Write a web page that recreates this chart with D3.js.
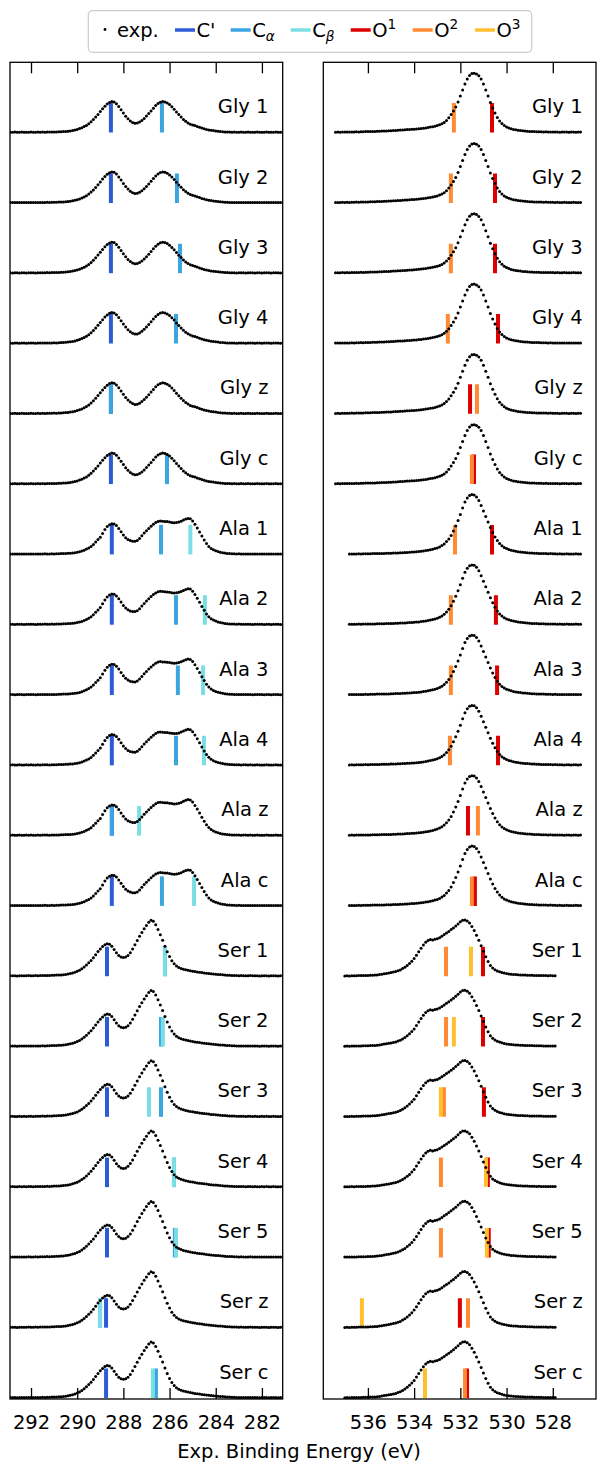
<!DOCTYPE html>
<html><head><meta charset="utf-8">
<script src="https://cdn.jsdelivr.net/npm/d3@7"></script>
<style>body{margin:0;background:#fff} svg{display:block} text{font-family:"DejaVu Sans",sans-serif;fill:#000}</style>
</head><body><svg id="c" width="597" height="1469"></svg>
<script>
// ---------------- DATA ----------------
const rows = ["Gly 1","Gly 2","Gly 3","Gly 4","Gly z","Gly c",
              "Ala 1","Ala 2","Ala 3","Ala 4","Ala z","Ala c",
              "Ser 1","Ser 2","Ser 3","Ser 4","Ser 5","Ser z","Ser c"];
const rowMolecule = ["Gly","Gly","Gly","Gly","Gly","Gly","Ala","Ala","Ala","Ala","Ala","Ala","Ser","Ser","Ser","Ser","Ser","Ser","Ser"];

// computed C 1s binding energies (eV)
const cPrime = [288.54,288.54,288.54,288.54,288.54,288.54, 288.50,288.50,288.50,288.50,288.50,288.50, 288.71,288.71,288.71,288.71,288.71,288.75,288.75];
const cAlpha = [286.33,285.68,285.55,285.72,288.54,286.11, 286.37,285.72,285.64,285.72,288.50,286.33, 286.20,286.37,286.37,285.81,285.77,289.01,286.59];
const cBeta  = [null,null,null,null,null,null, 285.10,284.47,284.55,284.51,287.32,284.94, 286.20,286.29,286.89,285.81,285.72,289.01,286.72];
// computed O 1s binding energies (eV)
const o1 = [530.63,530.50,530.50,530.37,531.58,531.41, 530.63,530.46,530.41,530.37,531.67,531.37, 531.02,531.02,530.98,530.81,530.77,532.02,531.71];
const o2 = [532.28,532.41,532.41,532.54,531.28,531.50, 532.23,532.41,532.41,532.45,531.24,531.50, 532.62,532.62,532.71,532.84,532.84,531.67,531.80];
const o3 = [null,null,null,null,null,null, null,null,null,null,null,null, 531.54,532.28,532.84,530.89,530.85,536.26,533.53];

// experimental spectra (a.u.), sampled every 0.1 eV from the start energy downwards
const expStep = 0.1;
const expC_start = {Gly:292.9, Ala:292.9, Ser:292.9};
const expC_Gly = [0.4,0.3,0.5,0.4,0.3,0.5,0.4,0.3,0.4,0.5,0.4,0.3,0.5,0.4,0.5,0.4,0.6,0.5,0.6,0.7,
 0.6,0.8,0.9,1.0,1.2,1.4,1.7,2.1,2.6,3.2,4.0,4.9,6.0,7.2,8.8,10.8,13.0,15.5,18.2,21.0,
 23.8,26.4,28.6,30.2,31.0,30.6,28.8,26.0,22.8,19.5,16.4,13.8,11.7,10.2,9.4,9.6,10.6,12.2,14.2,16.5,
 19.0,21.7,24.4,27.0,29.0,30.4,31.0,30.6,29.6,28.0,25.8,23.4,20.6,18.0,15.6,13.2,11.3,9.7,8.4,7.6,
 7.0,6.2,5.3,4.5,3.8,3.2,2.7,2.3,2.0,1.7,1.4,1.1,0.9,0.7,0.6,
 0.5,0.4,0.5,0.3,0.4,0.5,0.4,0.3,0.5,0.4,0.4,0.3,0.5,0.4,0.3,0.4,0.5,0.4,0.3,0.4,0.5,0.4,0.3,0.4];
const expC_Ala = [0.4,0.5,0.3,0.4,0.5,0.4,0.3,0.5,0.4,0.5,0.4,0.3,0.5,0.4,0.5,0.6,0.5,0.4,0.6,0.5,0.6,0.7,0.8,
 0.9,1.0,1.1,1.2,1.4,1.7,2.1,2.6,3.3,4.2,5.3,6.4,7.9,10.0,12.4,14.8,17.2,
 21.0,24.8,27.8,29.7,30.7,30.4,28.8,26.0,22.6,19.3,16.7,14.9,13.8,13.2,13.1,14.0,16.0,18.6,21.3,23.6,
 25.9,28.1,30.1,31.8,33.0,33.4,33.1,32.9,32.8,32.4,32.0,31.7,31.9,32.4,33.2,34.3,35.3,36.0,35.6,33.5,
 30.2,26.5,22.5,18.3,14.4,10.8,8.0,6.0,4.6,3.6,2.8,2.2,1.7,1.3,1.0,0.8,0.7,
 0.6,0.5,0.6,0.4,0.5,0.5,0.4,0.5,0.3,0.4,0.5,0.4,0.4,0.3,0.5,0.4,0.3,0.4,0.5,0.4,0.3,0.4];
const expC_Ser = [0.4,0.5,0.4,0.3,0.5,0.4,0.5,0.4,0.6,0.5,0.4,0.6,0.5,0.6,0.7,0.6,0.8,0.7,0.9,1.0,
 1.1,1.2,1.3,1.5,1.8,2.2,2.7,3.3,4.0,4.9,6.0,7.5,9.2,11.2,13.4,15.8,18.5,21.5,24.6,27.3,
 29.6,31.5,32.5,32.0,30.0,26.8,23.4,20.8,19.2,18.7,19.2,20.8,23.5,27.2,31.5,35.8,40.0,43.8,47.5,50.8,
 54.0,56.0,55.0,51.5,46.8,41.5,36.0,30.0,24.5,19.6,15.5,12.4,10.2,8.8,7.8,7.0,6.4,5.9,5.4,5.0,
 4.6,4.2,3.9,3.6,3.3,3.0,2.7,2.4,2.2,2.0,1.8,1.6,1.4,1.2,1.0,0.9,0.8,0.7,
 0.6,0.5,0.6,0.5,0.4,0.5,0.6,0.4,0.5,0.4,0.3,0.5,0.4,0.5,0.3,0.4,0.5,0.4,0.3,0.4,0.5];
const expO_start = {Gly:537.4, Ala:536.8, Ser:537.0};
const expO_Gly = [0.4,0.5,0.4,0.6,0.5,0.6,0.5,0.7,0.6,0.8,0.7,0.9,0.8,1.0,1.0,1.1,1.2,1.2,1.3,1.4,
 1.5,1.6,1.7,1.8,1.9,2.1,2.2,2.4,2.5,2.6,2.8,3.0,3.1,3.3,3.4,3.6,3.9,4.1,4.4,4.7,
 5.1,5.5,5.9,6.4,7.0,7.8,8.8,10.2,12.2,14.8,18.0,21.5,25.5,30.5,36.5,42.5,48.5,53.5,57.0,59.0,
 59.4,58.6,56.8,53.5,48.5,42.5,36.5,30.0,24.5,19.5,15.0,11.5,9.0,7.0,5.6,4.6,3.8,3.2,2.8,2.4,
 2.1,1.8,1.6,1.4,1.2,1.1,1.0,0.9,0.9,0.8,0.7,0.8,0.6,0.7,0.6,
 0.5,0.6,0.4,0.5,0.6,0.5,0.4,0.5,0.6,0.4,0.5,0.5];
const expO_Ala = [0.4,0.5,0.4,0.5,0.6,0.5,0.6,0.7,0.6,0.7,0.8,0.8,0.9,0.9,1.0,1.0,1.1,1.1,1.2,1.3,
 1.4,1.5,1.6,1.7,1.8,2.0,2.1,2.3,2.4,2.6,2.8,3.1,3.4,3.8,4.2,4.7,5.2,5.8,6.5,7.5,
 8.8,10.5,12.8,15.5,19.0,23.5,28.5,34.0,40.0,46.5,52.5,56.5,59.0,59.8,59.5,57.5,54.0,49.0,43.5,38.0,
 32.5,27.0,22.0,17.5,13.8,10.8,8.6,7.0,5.8,4.9,4.2,3.6,3.1,2.7,2.4,2.1,1.9,1.7,1.5,1.3,
 1.2,1.1,1.0,0.9,0.9,0.8,0.7,0.8,0.6,
 0.7,0.5,0.6,0.5,0.4,0.6,0.5,0.4,0.5,0.6,0.4,0.5];
const expO_Ser = [0.3,0.4,0.3,0.5,0.4,0.5,0.6,0.6,0.7,0.7,0.8,0.9,1.0,1.1,1.3,1.6,2.0,2.4,2.8,3.2,
 3.6,4.1,4.6,5.4,6.3,7.6,9.0,10.8,12.7,15.0,17.6,21.0,24.5,28.0,31.3,34.0,35.8,36.8,36.2,36.9,
 37.4,38.5,40.0,41.6,43.2,44.8,46.6,48.3,50.2,52.3,54.5,56.0,56.2,55.2,53.3,49.8,45.8,41.0,36.0,30.5,
 25.0,19.5,14.8,10.8,8.2,6.5,5.3,4.4,3.7,3.1,2.6,2.3,2.0,1.8,1.6,1.4,1.3,1.2,1.1,1.0,
 0.9,0.9,0.8,0.7,0.8,0.7,0.6,0.6,0.5,0.6,0.5,0.5];

const ticksC = [292,290,288,286,284,282];
const ticksO = [536,534,532,530,528];
const xLabel = "Exp. Binding Energy (eV)";

// ---------------- LAYOUT / STYLE ----------------
const OFFSET = 70.3;      // vertical offset between stacked spectra (a.u.)
const STICK = 29.5;       // stick height (a.u.)
const FS = 19.5;
const colors = {cp:"#2b5bd6", ca:"#3ba5e2", cb:"#7adfe4", o1:"#dd0000", o2:"#ff8a33", o3:"#ffc02e"};

const svg = d3.select("#c");
const yTop = 62.3, yBot = 1399;
const y = d3.scaleLinear().domain([-1, 19*OFFSET]).range([yBot, yTop]);

const panels = [
  {x0:10, x1:282.7, domain:[292.91,281.1], ticks:ticksC, labelX:268.5,
   exp:{Gly:expC_Gly, Ala:expC_Ala, Ser:expC_Ser}, start:expC_start,
   sticks:[["cp",cPrime],["ca",cAlpha],["cb",cBeta]]},
  {x0:323.3, x1:596, domain:[537.93,526.13], ticks:ticksO, labelX:582.7,
   exp:{Gly:expO_Gly, Ala:expO_Ala, Ser:expO_Ser}, start:expO_start,
   sticks:[["o1",o1],["o2",o2],["o3",o3]]}
];

panels.forEach((p,pi)=>{
  const x = d3.scaleLinear().domain(p.domain).range([p.x0,p.x1]);
  const clipId = "clip"+pi;
  svg.append("clipPath").attr("id",clipId).append("rect")
    .attr("x",p.x0).attr("y",yTop).attr("width",p.x1-p.x0).attr("height",yBot-yTop);
  const g = svg.append("g").attr("clip-path",`url(#${clipId})`);

  rows.forEach((r,i)=>{
    const off = (18-i)*OFFSET;
    p.sticks.forEach(([key,arr])=>{
      const e = arr[i];
      if(e==null) return;
      g.append("line").attr("x1",x(e)).attr("x2",x(e))
        .attr("y1",y(off)).attr("y2",y(off+STICK))
        .attr("stroke",colors[key]).attr("stroke-width",4);
    });
    const mol = rowMolecule[i];
    const data = p.exp[mol], e0 = p.start[mol];
    g.append("g").selectAll("circle").data(data).join("circle")
      .attr("cx",(d,k)=>x(e0 - k*expStep))
      .attr("cy",d=>y(off+d))
      .attr("r",1.5).attr("fill","#000");
    svg.append("text").attr("x",p.labelX).attr("y",y(off+19.4))
      .attr("text-anchor","end").attr("font-size",FS).text(r);
  });

  const axB = d3.axisBottom(x).tickValues(p.ticks).tickSizeInner(-11).tickSizeOuter(0).tickPadding(16).tickFormat(d3.format("d"));
  const gb = svg.append("g").attr("transform",`translate(0,${yBot})`).call(axB);
  const axT = d3.axisTop(x).tickValues(p.ticks).tickSizeInner(-11).tickSizeOuter(0).tickFormat("");
  const gt = svg.append("g").attr("transform",`translate(0,${yTop})`).call(axT);
  [gb,gt].forEach(ga=>{
    ga.select(".domain").remove();
    ga.selectAll(".tick line").attr("stroke","#000").attr("stroke-width",1.3);
    ga.selectAll(".tick text").attr("font-size",FS).attr("font-family","DejaVu Sans");
  });
  svg.append("rect").attr("x",p.x0).attr("y",yTop).attr("width",p.x1-p.x0).attr("height",yBot-yTop)
    .attr("fill","none").attr("stroke","#000").attr("stroke-width",1.3);
});

svg.append("text").attr("x",299).attr("y",1458).attr("text-anchor","middle").attr("font-size",FS).text(xLabel);

const lg = svg.append("g");
lg.append("rect").attr("x",88.3).attr("y",10.7).attr("width",443.4).attr("height",41.6)
  .attr("rx",4).attr("fill","#fff").attr("stroke","#cccccc").attr("stroke-width",1.2);
lg.append("circle").attr("cx",105).attr("cy",29.5).attr("r",1.4).attr("fill","#000");
lg.append("text").attr("x",117).attr("y",37).attr("font-size",FS).text("exp.");
const legItems = [
  {key:"cp", x:175, base:"C", prime:true},
  {key:"ca", x:230.7, base:"C", sub:"α"},
  {key:"cb", x:290.7, base:"C", sub:"β"},
  {key:"o1", x:350.7, base:"O", sup:"1"},
  {key:"o2", x:412.7, base:"O", sup:"2"},
  {key:"o3", x:475, base:"O", sup:"3"}
];
legItems.forEach(it=>{
  lg.append("line").attr("x1",it.x).attr("x2",it.x+20).attr("y1",30).attr("y2",30)
    .attr("stroke",colors[it.key]).attr("stroke-width",3.5);
  const t = lg.append("text").attr("x",it.x+21.5).attr("y",37).attr("font-size",FS);
  t.append("tspan").text(it.base + (it.prime?"'":""));
  if(it.sub) t.append("tspan").attr("font-size",FS*0.7).attr("font-style","italic").attr("dy",4).text(it.sub);
  if(it.sup) t.append("tspan").attr("font-size",FS*0.7).attr("dy",-8).text(it.sup);
});
</script></body></html>
